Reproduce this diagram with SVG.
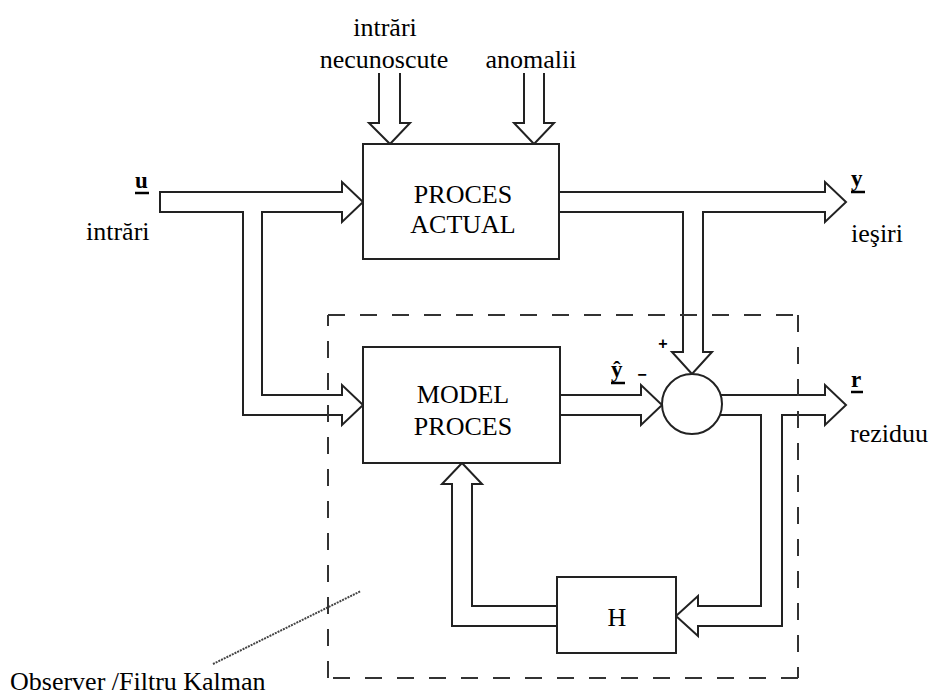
<svg xmlns="http://www.w3.org/2000/svg" width="933" height="695" viewBox="0 0 933 695">
<style>
text{font-family:'Liberation Serif','Times New Roman','DejaVu Serif',serif;fill:#000}
.t{font-size:26px}
.lb{font-size:23px;font-weight:bold}
.sm{font-family:'Liberation Sans',Arial,sans-serif;font-size:16px;font-weight:bold}
.box{fill:#fff;stroke:#222;stroke-width:2}
.arr{fill:#fff;stroke:#222;stroke-width:2;stroke-linejoin:miter}
.ul{stroke:#000;stroke-width:2.5}
.dash{stroke:#333;stroke-width:2;stroke-dasharray:17 15;fill:none}
</style>
<rect width="933" height="695" fill="#fff"/>
<g id="connectors">
  <path class="arr" d="M379,73 V123 H369 L390,144 L410,123 H400 V73"/>
  <path class="arr" d="M524,73 V123 H514 L534,144 L554,123 H544 V73"/>
  <path class="arr" d="M160,192 H342 V182 L363,202 L342,222 V212 H262 V395 H342 V385 L363,405 L342,425 V415 H243 V212 H160 Z"/>
  <path class="arr" d="M559,192 H825 V182 L846,202 L825,222 V212 H703 V352 H712 L692,374 L672,352 H683 V212 H559"/>
  <path class="arr" d="M560,395 H641 V385 L662,405 L641,425 V415 H560"/>
  <path class="arr" d="M720,395 H825 V385 L846,405 L825,425 V415 H782 V626 H698 V636 L676,616 L698,596 V606 H761 V415 H720"/>
  <path class="arr" d="M557,606 H472 V484 H482 L462,463 L442,484 H452 V626 H557"/>
  <line x1="213" y1="664" x2="361" y2="591" stroke="#444" stroke-width="2" stroke-dasharray="2 1"/>
</g>
<g id="observer-box">
  <line class="dash" x1="328" y1="315" x2="798" y2="315"/>
  <line class="dash" x1="798" y1="315" x2="798" y2="678"/>
  <line class="dash" x1="798" y1="678" x2="328" y2="678"/>
  <line class="dash" x1="328" y1="678" x2="328" y2="315"/>
</g>
<g id="proces-actual">
  <rect class="box" x="363" y="144" width="196" height="115"/>
  <text class="t" font-family="Liberation Serif, serif" x="463" y="203" text-anchor="middle">PROCES</text>
  <text class="t" font-family="Liberation Serif, serif" x="463" y="233" text-anchor="middle">ACTUAL</text>
</g>
<g id="model-proces">
  <rect class="box" x="363" y="347" width="197" height="116"/>
  <text class="t" font-family="Liberation Serif, serif" x="463" y="403" text-anchor="middle">MODEL</text>
  <text class="t" font-family="Liberation Serif, serif" x="463" y="435" text-anchor="middle">PROCES</text>
</g>
<g id="sum">
  <circle cx="692" cy="404" r="30" fill="#fff" stroke="#222" stroke-width="2"/>
  <text class="sm" x="663" y="349" text-anchor="middle">+</text>
  <text class="sm" x="642" y="380" text-anchor="middle">−</text>
</g>
<g id="h-block">
  <rect class="box" x="557" y="577" width="119" height="76"/>
  <text class="t" font-family="Liberation Serif, serif" x="617" y="626" text-anchor="middle">H</text>
</g>
<g id="labels">
  <text class="t" font-family="Liberation Serif, serif" x="385" y="36" text-anchor="middle">intrări</text>
  <text class="t" font-family="Liberation Serif, serif" x="384" y="68" text-anchor="middle">necunoscute</text>
  <text class="t" font-family="Liberation Serif, serif" x="531" y="68" text-anchor="middle">anomalii</text>
  <text class="lb" font-family="Liberation Serif, serif" x="135" y="188">u</text>
  <line class="ul" x1="135" y1="193" x2="149" y2="193"/>
  <text class="t" font-family="Liberation Serif, serif" x="86" y="240">intrări</text>
  <text class="lb" font-family="Liberation Serif, serif" x="851" y="186">y</text>
  <line class="ul" x1="851" y1="192" x2="865" y2="192"/>
  <text class="t" font-family="Liberation Serif, serif" x="851" y="242">ieşiri</text>
  <text class="lb" font-family="Liberation Serif, serif" x="851" y="387">r</text>
  <line class="ul" x1="851" y1="392" x2="863" y2="392"/>
  <text class="t" font-family="Liberation Serif, serif" x="850" y="442">reziduu</text>
  <text class="lb" font-family="Liberation Serif, serif" x="611" y="377">ŷ</text>
  <line class="ul" x1="611" y1="383" x2="625" y2="383"/>
  <text class="t" font-family="Liberation Serif, serif" x="10" y="690">Observer /Filtru Kalman</text>
</g>
</svg>
